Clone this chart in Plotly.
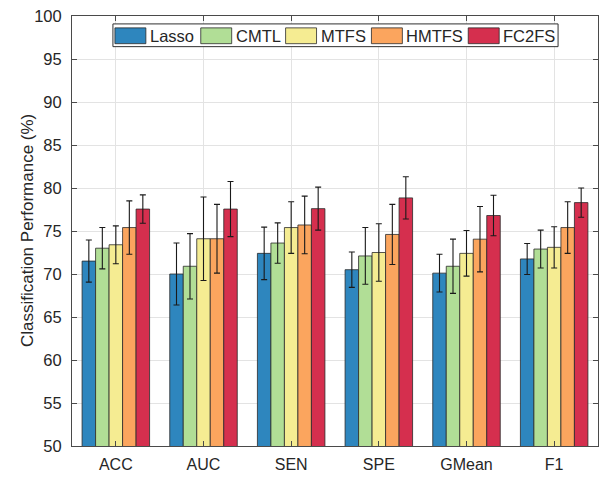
import plotly.graph_objects as go

categories = ["ACC", "AUC", "SEN", "SPE", "GMean", "F1"]
methods = ["Lasso", "CMTL", "MTFS", "HMTFS", "FC2FS"]

lasso = [71.5, 70.0, 72.4, 70.5, 70.1, 71.75]
cmtl = [73.0, 70.9, 73.6, 72.1, 70.9, 72.9]
mtfs = [73.4, 74.1, 75.4, 72.5, 72.4, 73.1]
hmtfs = [75.4, 74.1, 75.7, 74.6, 74.05, 75.4]
fc2fs = [77.55, 77.55, 77.6, 78.85, 76.8, 78.3]

lasso_err = [2.45, 3.6, 3.05, 2.05, 2.2, 1.8]
cmtl_err = [2.4, 3.8, 2.35, 3.3, 3.15, 2.2]
mtfs_err = [2.2, 4.85, 3.0, 3.35, 2.65, 2.4]
hmtfs_err = [3.1, 4.0, 3.35, 3.5, 3.8, 3.0]
fc2fs_err = [1.65, 3.2, 2.5, 2.45, 2.35, 1.7]

values = [lasso, cmtl, mtfs, hmtfs, fc2fs]
errors = [lasso_err, cmtl_err, mtfs_err, hmtfs_err, fc2fs_err]
colors = ["#2E86BE", "#B1DE96", "#F5EC92", "#FBA55E", "#D52F4E"]

FONT = "Liberation Sans, Arial, Helvetica, sans-serif"
TXT = "#262626"

W, H = 603, 477
ML, MR, MT, MB = 72, 4, 16, 26
PW, PH = W - ML - MR, H - MT - MB


def px(x):
    return (x - ML) / PW


def py(y):
    return 1 - (y - MT) / PH


fig = go.Figure()
for name, vals, errs, col in zip(methods, values, errors, colors):
    fig.add_trace(go.Bar(
        x=categories, y=vals, name=name, showlegend=False,
        marker=dict(color=col, line=dict(color="#2a2a2a", width=0.8)),
        error_y=dict(type="data", array=errs, visible=True,
                     color="#1a1a1a", thickness=1.1, width=3),
    ))

# Manual legend (wide MATLAB-style swatches)
shapes = [dict(type="rect", xref="paper", yref="paper",
               x0=px(113), x1=px(559), y0=py(47), y1=py(24),
               line=dict(color="#303030", width=1), fillcolor="white", layer="above")]
annotations = []
swatch_left = [115, 201, 286, 372, 469]
for name, col, sx in zip(methods, colors, swatch_left):
    shapes.append(dict(type="rect", xref="paper", yref="paper",
                       x0=px(sx), x1=px(sx + 31), y0=py(44), y1=py(28),
                       line=dict(color="#2a2a2a", width=0.8), fillcolor=col, layer="above"))
    annotations.append(dict(text=name, xref="paper", yref="paper",
                            x=px(sx + 33), y=py(36.5), xanchor="left", yanchor="middle",
                            showarrow=False,
                            font=dict(family=FONT, size=16.5, color=TXT)))

annotations.append(dict(
    text="Classification Performance (%)", textangle=-90,
    xref="paper", yref="paper", x=px(27), y=0.5,
    xanchor="center", yanchor="middle", showarrow=False,
    font=dict(family=FONT, size=17, color=TXT),
))

fig.update_layout(
    width=W, height=H,
    margin=dict(l=ML, r=MR, t=MT, b=MB),
    paper_bgcolor="white", plot_bgcolor="white",
    barmode="group", bargap=0.23, bargroupgap=0,
    font=dict(family=FONT, size=15, color=TXT),
    shapes=shapes, annotations=annotations,
)

fig.update_xaxes(
    type="category", range=[-0.5, 5.5],
    showgrid=True, gridcolor="#e3e3e3", gridwidth=1,
    showline=True, linecolor="#4a4a4a", linewidth=1, mirror="ticks",
    ticks="inside", ticklen=5, tickcolor="#4a4a4a",
    tickfont=dict(family=FONT, size=16, color=TXT),
    ticklabelstandoff=4,
)
fig.update_yaxes(
    range=[50, 100], tickvals=list(range(50, 101, 5)),
    showgrid=True, gridcolor="#e3e3e3", gridwidth=1,
    showline=True, linecolor="#4a4a4a", linewidth=1, mirror="ticks",
    ticks="inside", ticklen=5, tickcolor="#4a4a4a",
    tickfont=dict(family=FONT, size=16.5, color=TXT),
    ticklabelstandoff=6, zeroline=False,
)

fig.write_html("out.html")
